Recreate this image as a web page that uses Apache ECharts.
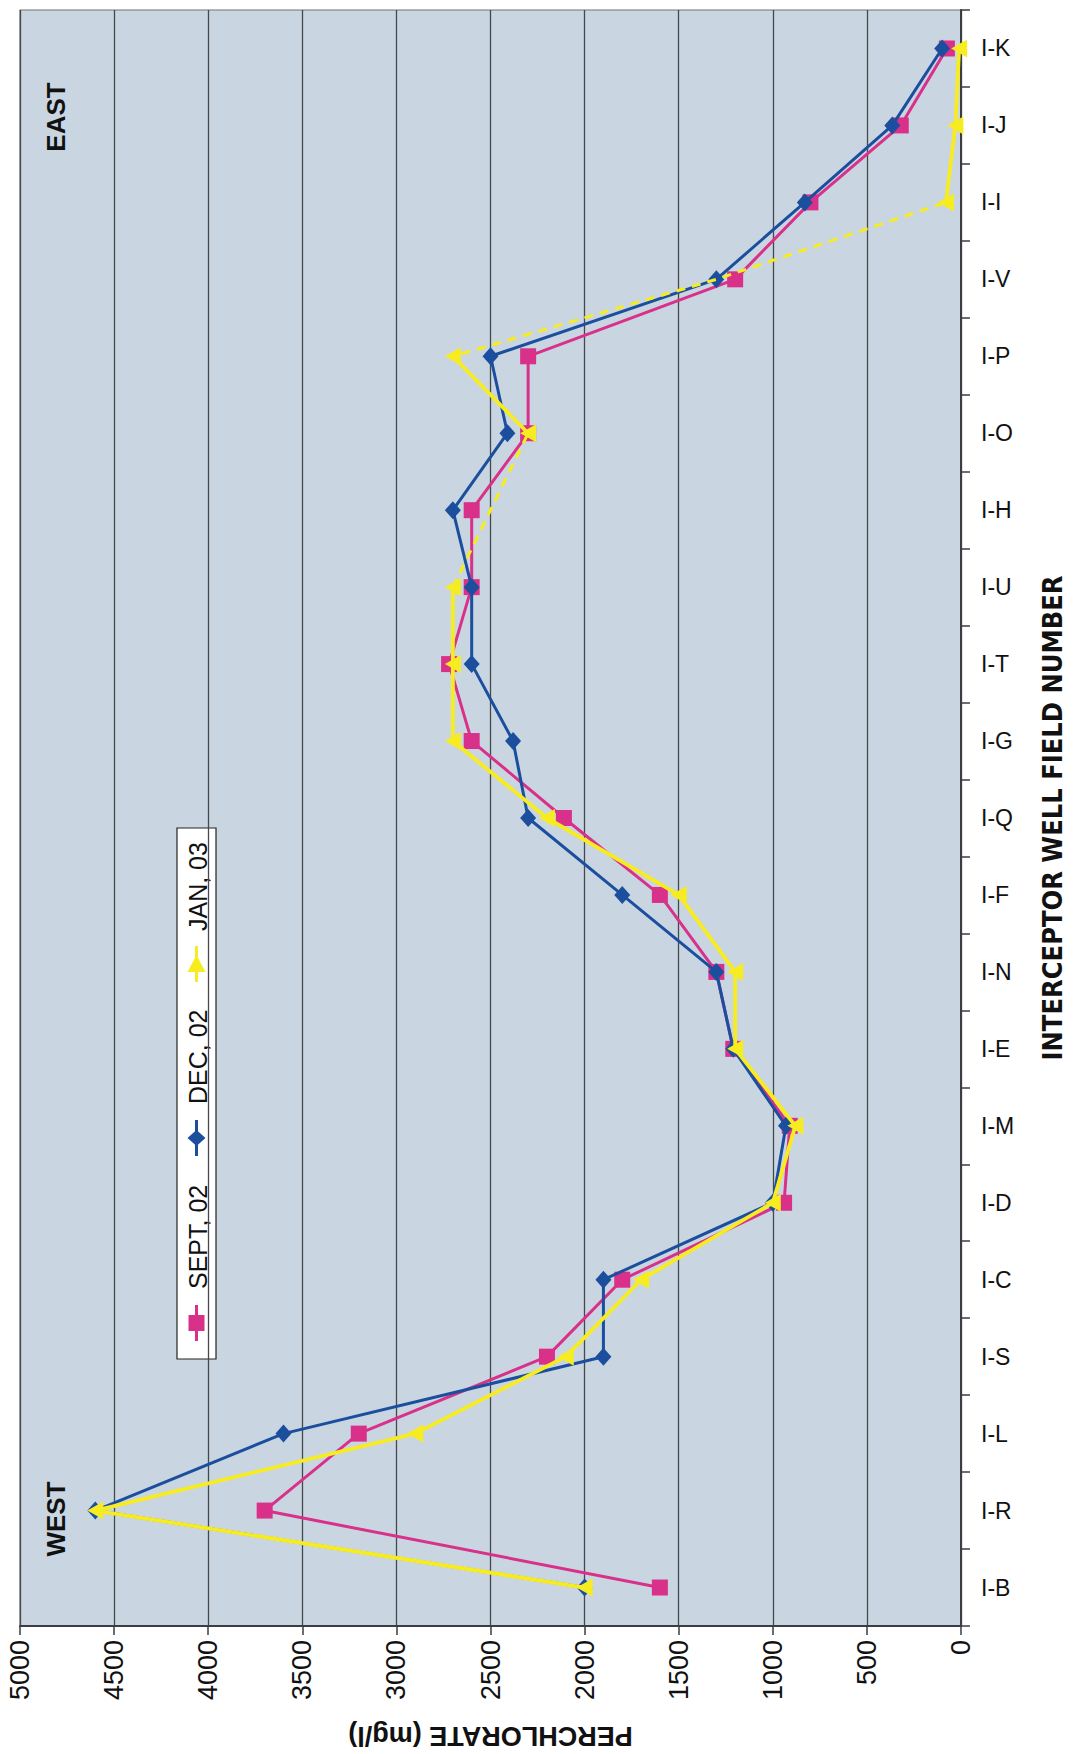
<!DOCTYPE html>
<html>
<head>
<meta charset="utf-8">
<script src="https://cdn.jsdelivr.net/npm/echarts@6/dist/echarts.min.js"></script>
<style>
html,body{margin:0;padding:0;background:#ffffff;}
#chart{width:1074px;height:1754px;}
</style>
</head>
<body>
<div id="chart"></div>
<script>
// Interceptor wells, west (I-B) to east (I-K)
const categories = ['I-B','I-R','I-L','I-S','I-C','I-D','I-M','I-E','I-N','I-F','I-Q','I-G','I-T','I-U','I-H','I-O','I-P','I-V','I-I','I-J','I-K'];
const valueTicks = [0,500,1000,1500,2000,2500,3000,3500,4000,4500,5000];
const seriesNames = ['SEPT, 02','DEC, 02','JAN, 03'];
const sept = [1600,3700,3200,2200,1800,940,910,1210,1300,1600,2110,2600,2720,2600,2600,2300,2300,1200,800,320,75];
const dec  = [2000,4600,3600,1900,1900,1000,930,1210,1300,1800,2300,2380,2600,2600,2700,2410,2500,1300,830,365,100];
const jan  = [2000,4600,2900,2100,1700,1000,880,1200,1200,1500,2200,2700,2700,2700,null,2300,2700,null,80,30,10];
// dashed connector for JAN where wells were not sampled
const janLinks = [null,null,null,null,null,null,null,null,null,null,null,null,null,2700,null,2300,2700,1300,80,null,null];

const COLORS = {sept:'#d9308a', dec:'#1b4f9e', jan:'#f7ec1f'};
const pairs = arr => arr.map((v,i)=>[v==null?'-':v, categories[i]]);

const chart = echarts.init(document.getElementById('chart'), null, {renderer:'svg'});

const FONT = '"Liberation Sans", Arial, sans-serif';
const NARROW = '"Liberation Sans Narrow", "DejaVu Sans Condensed", "Liberation Sans", sans-serif';

// legend drawn rotated (reads bottom to top)
const legendItems = [
  {name: seriesNames[0], color: COLORS.sept, symbol:'rect', pos: 36, text: 70},
  {name: seriesNames[1], color: COLORS.dec, symbol:'diamond', pos: 221, text: 255},
  {name: seriesNames[2], color: COLORS.jan, symbol:'triangle', pos: 395, text: 428}
];
const legendChildren = [
  {type:'rect', shape:{x:0,y:0,width:531,height:39}, style:{fill:'#ffffff', stroke:'#222', lineWidth:1.2}}
];
legendItems.forEach(it=>{
  legendChildren.push({type:'line', shape:{x1:it.pos-18,y1:19.5,x2:it.pos+18,y2:19.5}, style:{stroke:it.color, lineWidth:3}});
  let sh;
  if (it.symbol==='rect') sh = {type:'rect', shape:{x:it.pos-8,y:19.5-8,width:16,height:16}, style:{fill:it.color}};
  else if (it.symbol==='diamond') sh = {type:'polygon', shape:{points:[[it.pos,19.5-9],[it.pos+8,19.5],[it.pos,19.5+9],[it.pos-8,19.5]]}, style:{fill:it.color}};
  else sh = {type:'polygon', shape:{points:[[it.pos-8,19.5-9],[it.pos+9,19.5],[it.pos-8,19.5+9]]}, style:{fill:it.color}};
  legendChildren.push(sh);
  legendChildren.push({type:'text', x:it.text, y:20.5, style:{text:it.name, font:'25px '+FONT, fill:'#111', verticalAlign:'middle', align:'left'}});
});

const option = {
  animation:false,
  backgroundColor:'#ffffff',
  grid:{left:20, right:110, top:10, bottom:124, show:true, backgroundColor:'#c9d6e2', borderColor:'#6f747a', borderWidth:1.2},
  xAxis:{
    type:'value', position:'bottom', inverse:true, min:0, max:5000, interval:500,
    name:'PERCHLORATE (mg/l)', nameLocation:'middle', nameGap:96, nameRotate:180,
    nameTextStyle:{fontFamily:FONT, fontWeight:'bold', fontSize:27, color:'#111'},
    axisLine:{show:true, lineStyle:{color:'#3a3d42', width:2}},
    axisTick:{show:true, length:9, lineStyle:{color:'#3a3d42', width:1.5}},
    splitLine:{show:true, lineStyle:{color:'#45484c', width:1.3}},
    axisLabel:{rotate:90, fontFamily:FONT, fontSize:27, color:'#111', margin:14,
      formatter: v => valueTicks.indexOf(v) >= 0 ? String(v) : ''}
  },
  yAxis:{
    type:'category', position:'right', data:categories, boundaryGap:true,
    name:'INTERCEPTOR WELL FIELD NUMBER', nameLocation:'middle', nameGap:78, nameRotate:90,
    nameTextStyle:{fontFamily:NARROW, fontWeight:'bold', fontSize:27, color:'#111'},
    axisLine:{show:true, lineStyle:{color:'#3a3d42', width:2}},
    axisTick:{show:true, length:9, alignWithLabel:false, lineStyle:{color:'#3a3d42', width:1.5}},
    splitLine:{show:false},
    axisLabel:{fontFamily:FONT, fontSize:23, color:'#111', margin:20}
  },
  series:[
    {name:seriesNames[0], type:'line', data:pairs(sept), symbol:'rect', symbolSize:16,
     lineStyle:{color:COLORS.sept, width:3}, itemStyle:{color:COLORS.sept}, z:2},
    {name:seriesNames[1], type:'line', data:pairs(dec), symbol:'diamond', symbolSize:[16,18],
     lineStyle:{color:COLORS.dec, width:3}, itemStyle:{color:COLORS.dec}, z:3},
    {name:seriesNames[2]+' (not sampled)', type:'line', data:pairs(janLinks), connectNulls:true, showSymbol:false, symbol:'none',
     lineStyle:{color:COLORS.jan, width:3, type:[9,7]}, z:4},
    {name:seriesNames[2], type:'line', data:pairs(jan), connectNulls:false, symbol:'triangle', symbolSize:[18,16], symbolRotate:90,
     lineStyle:{color:COLORS.jan, width:3.8}, itemStyle:{color:COLORS.jan}, z:5}
  ],
  graphic:[
    {type:'group', x:177, y:1359, rotation:Math.PI/2, children:legendChildren, z:100},
    {type:'text', x:56, y:1519, rotation:Math.PI/2, style:{text:'WEST', font:'bold 26px '+FONT, fill:'#111', align:'center', verticalAlign:'middle'}, z:100},
    {type:'text', x:56, y:117, rotation:Math.PI/2, style:{text:'EAST', font:'bold 26px '+FONT, fill:'#111', align:'center', verticalAlign:'middle'}, z:100}
  ]
};
chart.setOption(option);
</script>
</body>
</html>
